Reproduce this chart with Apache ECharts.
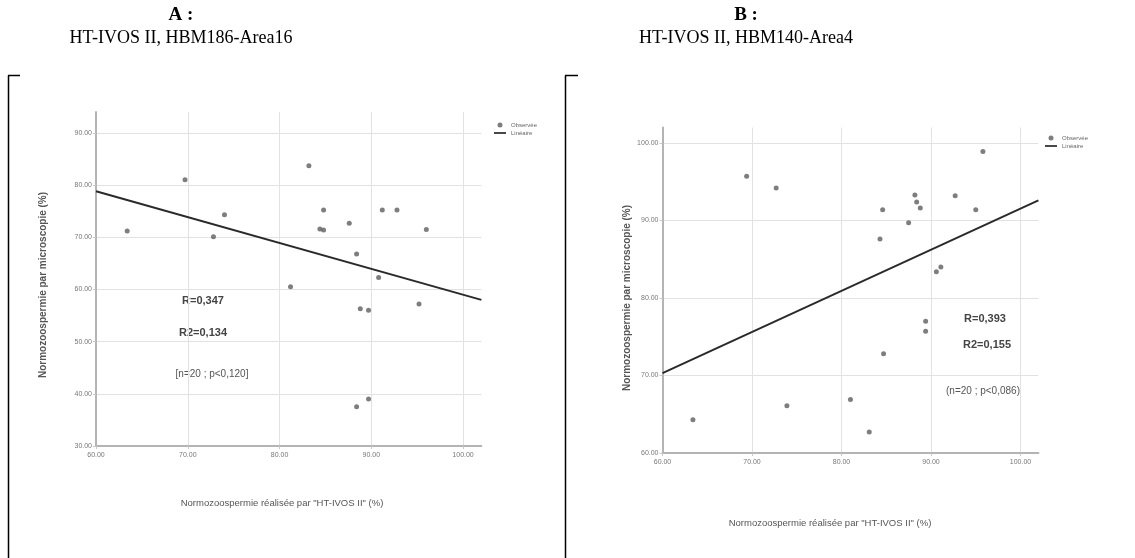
<!DOCTYPE html>
<html><head><meta charset="utf-8">
<script src="https://cdn.jsdelivr.net/npm/echarts@6/dist/echarts.min.js"></script>
<style>html,body{margin:0;padding:0;background:#fff}#c{width:1135px;height:558px}</style>
</head><body><div id="c"></div>
<script>
// Panel A: HT-IVOS II, HBM186-Area16
const pointsA = [
  [63.4,71.2],[69.7,81.0],[72.8,70.1],[74.0,74.3],[83.2,83.7],[84.8,75.2],[84.4,71.6],[84.8,71.4],
  [87.6,72.7],[88.4,66.8],[91.2,75.2],[92.8,75.2],[96.0,71.5],[90.8,62.3],[81.2,60.5],[95.2,57.2],
  [88.8,56.3],[89.7,56.0],[88.4,37.5],[89.7,39.0]
];
const fitA = [[60,78.8],[102,58.0]];
// Panel B: HT-IVOS II, HBM140-Area4
const pointsB = [
  [69.4,95.7],[72.7,94.2],[95.8,98.9],[92.7,93.2],[95.0,91.4],[84.6,91.4],[88.2,93.3],[88.4,92.4],
  [88.8,91.6],[87.5,89.7],[84.3,87.6],[90.6,83.4],[91.1,84.0],[89.4,77.0],[89.4,75.7],[84.7,72.8],
  [81.0,66.9],[83.1,62.7],[63.4,64.3],[73.9,66.1]
];
const fitB = [[60,70.3],[102,92.6]];
const xRange = [60, 102];
const yRangeA = [30, 94];
const yRangeB = [60, 102];
const tickStep = 10;
const statsA = ["R=0,347", "R2=0,134", "[n=20 ; p<0,120]"];
const statsB = ["R=0,393", "R2=0,155", "(n=20 ; p<0,086)"];
const titlesA = ["A :", "HT-IVOS II, HBM186-Area16"];
const titlesB = ["B :", "HT-IVOS II, HBM140-Area4"];
const yTitle = "Normozoospermie par microscopie (%)";
const xTitle = "Normozoospermie réalisée par \"HT-IVOS II\" (%)";

const chart = echarts.init(document.getElementById('c'));
const fmt = v => (Math.abs(v % tickStep) < 1e-9 ? v.toFixed(2) : '');
function xAxis(gi){
  return {gridIndex:gi,type:'value',min:xRange[0],max:xRange[1],interval:tickStep,
    axisLine:{show:true,lineStyle:{color:'#b4b4b4',width:2}},
    axisTick:{show:true,length:3,lineStyle:{color:'#c8c8c8'}},
    axisLabel:{formatter:fmt,fontSize:7,color:'#777',margin:6,fontFamily:'Liberation Sans',showMaxLabel:false},
    splitLine:{show:true,showMaxLine:false,lineStyle:{color:'#e2e2e2',width:1}}};
}
function yAxis(gi,r){
  return {gridIndex:gi,type:'value',min:r[0],max:r[1],interval:tickStep,
    axisLine:{show:true,lineStyle:{color:'#b4b4b4',width:2}},
    axisTick:{show:true,length:3,lineStyle:{color:'#c8c8c8'}},
    axisLabel:{formatter:fmt,fontSize:7,color:'#777',margin:4,fontFamily:'Liberation Sans',showMaxLabel:false},
    splitLine:{show:true,showMaxLine:false,lineStyle:{color:'#e2e2e2',width:1}}};
}
const scatterStyle = {color:'#5e5e5e'};
function ctext(cx,y,t,font,fill){
  return {type:'text',x:cx,y:y,style:{text:t,fill:fill||'#000',font:font,textAlign:'center',textVerticalAlign:'middle'}};
}
const lineIcon = 'path://M0,4L14,4L14,6L0,6Z';
const legendData = [{name:'Observée',icon:'circle'},{name:'Linéaire',icon:lineIcon}];
const option = {
  animation:false,
  backgroundColor:'#fff',
  grid:[
    {left:96,top:112,width:385.4,height:334},
    {left:662.5,top:127.5,width:375.9,height:325.5}
  ],
  xAxis:[xAxis(0),xAxis(1)],
  yAxis:[yAxis(0,yRangeA),yAxis(1,yRangeB)],
  legend:[
    {left:489,top:117,orient:'vertical',itemGap:2,itemWidth:12,itemHeight:5,
     textStyle:{fontSize:6,color:'#666',fontFamily:'Liberation Sans'},data:legendData},
    {left:1040,top:130,orient:'vertical',itemGap:2,itemWidth:12,itemHeight:5,
     textStyle:{fontSize:6,color:'#666',fontFamily:'Liberation Sans'},data:legendData}
  ],
  series:[
    {name:'Observée',type:'scatter',xAxisIndex:0,yAxisIndex:0,data:pointsA,symbolSize:5,itemStyle:scatterStyle},
    {name:'Linéaire',type:'line',xAxisIndex:0,yAxisIndex:0,data:fitA,symbol:'none',lineStyle:{color:'#2a2a2a',width:2},itemStyle:{color:'#2a2a2a'}},
    {name:'Observée',type:'scatter',xAxisIndex:1,yAxisIndex:1,data:pointsB,symbolSize:5,itemStyle:scatterStyle},
    {name:'Linéaire',type:'line',xAxisIndex:1,yAxisIndex:1,data:fitB,symbol:'none',lineStyle:{color:'#2a2a2a',width:2},itemStyle:{color:'#2a2a2a'}}
  ],
  graphic:[
    // table cell borders
    {type:'line',shape:{x1:8.5,y1:75.5,x2:8.5,y2:558},style:{stroke:'#000',lineWidth:1.5}},
    {type:'line',shape:{x1:8,y1:75.5,x2:20,y2:75.5},style:{stroke:'#000',lineWidth:1.5}},
    {type:'line',shape:{x1:565.5,y1:75.5,x2:565.5,y2:558},style:{stroke:'#000',lineWidth:1.5}},
    {type:'line',shape:{x1:565,y1:75.5,x2:578,y2:75.5},style:{stroke:'#000',lineWidth:1.5}},
    // titles
    ctext(181,15,titlesA[0],'bold 19px Liberation Serif'),
    ctext(181,38,titlesA[1],'18px Liberation Serif'),
    ctext(746,15,titlesB[0],'bold 19px Liberation Serif'),
    ctext(746,38,titlesB[1],'18px Liberation Serif'),
    // axis titles
    {type:'text',x:43,y:285,rotation:Math.PI/2,style:{text:yTitle,fill:'#555',font:'bold 10px Liberation Sans',textAlign:'center',textVerticalAlign:'middle'}},
    {type:'text',x:627,y:298,rotation:Math.PI/2,style:{text:yTitle,fill:'#555',font:'bold 10px Liberation Sans',textAlign:'center',textVerticalAlign:'middle'}},
    ctext(282,503,xTitle,'9.5px Liberation Sans','#555'),
    ctext(830,523,xTitle,'9.5px Liberation Sans','#555'),
    // stats
    ctext(203,301,statsA[0],'bold 11px Liberation Sans','#444'),
    ctext(203,333,statsA[1],'bold 11px Liberation Sans','#444'),
    ctext(212,374,statsA[2],'10px Liberation Sans','#555'),
    ctext(985,319,statsB[0],'bold 11px Liberation Sans','#444'),
    ctext(987,345,statsB[1],'bold 11px Liberation Sans','#444'),
    ctext(983,391,statsB[2],'10px Liberation Sans','#555')
  ]
};
chart.setOption(option);
</script></body></html>
